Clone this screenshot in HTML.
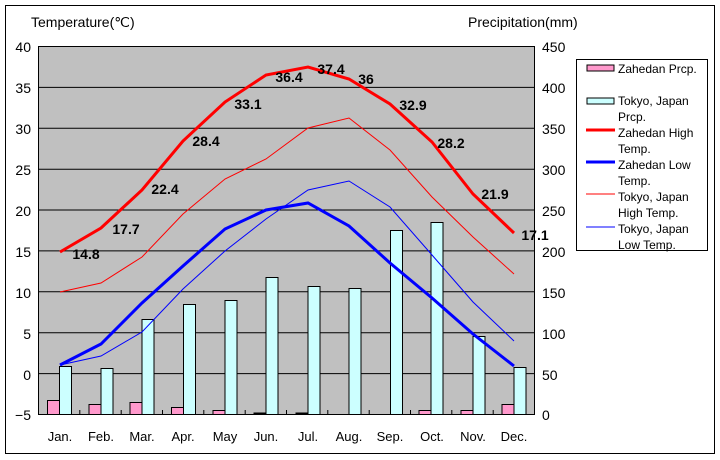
<!DOCTYPE html>
<html><head><meta charset="utf-8"><style>body{margin:0;background:#fff}svg{display:block;font-family:"Liberation Sans",sans-serif}</style></head><body>
<svg width="720" height="460" xmlns="http://www.w3.org/2000/svg">
<rect x="5.5" y="5.5" width="709" height="448" fill="#fff" stroke="#000"/>
<rect x="38.5" y="46.5" width="496" height="368" fill="#c0c0c0" stroke="#000"/>
<g stroke="#000" stroke-width="1">
<line x1="38" y1="87.4" x2="534" y2="87.4"/><line x1="38" y1="128.3" x2="534" y2="128.3"/><line x1="38" y1="169.2" x2="534" y2="169.2"/><line x1="38" y1="210" x2="534" y2="210"/><line x1="38" y1="250.9" x2="534" y2="250.9"/><line x1="38" y1="291.8" x2="534" y2="291.8"/><line x1="38" y1="332.7" x2="534" y2="332.7"/><line x1="38" y1="373.6" x2="534" y2="373.6"/>
</g>
<g font-size="14" text-anchor="end">
<text x="31" y="52">40</text><text x="31" y="93">35</text><text x="31" y="134">30</text><text x="31" y="175">25</text><text x="31" y="216">20</text><text x="31" y="257">15</text><text x="31" y="298">10</text><text x="31" y="339">5</text><text x="31" y="380">0</text><text x="31" y="420">−5</text>
</g>
<g font-size="14">
<text x="542" y="52">450</text><text x="542" y="93">400</text><text x="542" y="134">350</text><text x="542" y="175">300</text><text x="542" y="216">250</text><text x="542" y="257">200</text><text x="542" y="298">150</text><text x="542" y="339">100</text><text x="542" y="380">50</text><text x="542" y="420">0</text>
</g>
<text x="31" y="27" font-size="14">Temperature(℃)</text>
<text x="468" y="27" font-size="14">Precipitation(mm)</text>
<g font-size="13" text-anchor="middle">
<text x="60" y="441">Jan.</text><text x="101" y="441">Feb.</text><text x="142" y="441">Mar.</text><text x="183" y="441">Apr.</text><text x="225" y="441">May</text><text x="266" y="441">Jun.</text><text x="308" y="441">Jul.</text><text x="349" y="441">Aug.</text><text x="390" y="441">Sep.</text><text x="432" y="441">Oct.</text><text x="473" y="441">Nov.</text><text x="514" y="441">Dec.</text>
</g>
<g stroke="#000"><line x1="79.8" y1="414" x2="79.8" y2="410"/><line x1="121.2" y1="414" x2="121.2" y2="410"/><line x1="162.5" y1="414" x2="162.5" y2="410"/><line x1="203.8" y1="414" x2="203.8" y2="410"/><line x1="245.2" y1="414" x2="245.2" y2="410"/><line x1="286.5" y1="414" x2="286.5" y2="410"/><line x1="327.8" y1="414" x2="327.8" y2="410"/><line x1="369.2" y1="414" x2="369.2" y2="410"/><line x1="410.5" y1="414" x2="410.5" y2="410"/><line x1="451.8" y1="414" x2="451.8" y2="410"/><line x1="493.2" y1="414" x2="493.2" y2="410"/></g>
<g fill="#ff99cc" stroke="#000">
<rect x="47.5" y="400.5" width="12" height="14"/><rect x="89" y="404.5" width="12" height="10"/><rect x="130" y="402.5" width="12" height="12"/><rect x="171.5" y="407.5" width="12" height="7"/><rect x="213" y="410.5" width="12" height="4"/><rect x="254" y="413" width="12" height="1"/><rect x="296" y="413" width="12" height="1"/><rect x="419" y="410.5" width="12" height="4"/><rect x="461" y="410.5" width="12" height="4"/><rect x="502" y="404.5" width="12" height="10"/>
</g>
<g fill="#ccffff" stroke="#000">
<rect x="59.5" y="366.5" width="12" height="48"/><rect x="101" y="368.5" width="12" height="46"/><rect x="142" y="319.5" width="12" height="95"/><rect x="183.5" y="304.5" width="12" height="110"/><rect x="225" y="300.5" width="12" height="114"/><rect x="266" y="277.5" width="12" height="137"/><rect x="308" y="286.5" width="12" height="128"/><rect x="349" y="288.5" width="12" height="126"/><rect x="390.5" y="230.5" width="12" height="184"/><rect x="431" y="222.5" width="12" height="192"/><rect x="473" y="336.5" width="12" height="78"/><rect x="514" y="367.5" width="12" height="47"/>
</g>
<polyline fill="none" stroke="#ff0000" stroke-width="1" points="60,292 101,283 142,257 183,214 225,179 266,159 308,128 349,118 390,150 432,197 473,237 514,274"/>
<polyline fill="none" stroke="#0000ff" stroke-width="1" points="60,365 101,356 142,332 183,289 225,251 266,219 308,190 349,181 390,207 432,255 473,302 514,341"/>
<polyline fill="none" stroke="#ff0000" stroke-width="3" points="60,252 101,228 142,190 183,141 225,102 266,75 308,67 349,79 390,104 432,142 473,194 514,233"/>
<polyline fill="none" stroke="#0000ff" stroke-width="3" points="60,365 101,344 142,303 183,266 225,229 266,210 308,203 349,226 390,263 432,298 473,334 514,366"/>
<g font-size="14" font-weight="bold" text-anchor="middle">
<text x="86" y="259">14.8</text><text x="126" y="234">17.7</text><text x="165" y="194">22.4</text><text x="206" y="146">28.4</text><text x="248" y="109">33.1</text><text x="289" y="82">36.4</text><text x="331" y="74">37.4</text><text x="366" y="84">36</text><text x="413" y="110">32.9</text><text x="451" y="148">28.2</text><text x="495" y="199">21.9</text><text x="535" y="240">17.1</text>
</g>
<rect x="576.5" y="59.5" width="131" height="191" fill="#fff" stroke="#000"/>
<rect x="587" y="65" width="27" height="6" fill="#ff99cc" stroke="#000"/>
<rect x="587" y="98" width="27" height="6" fill="#ccffff" stroke="#000"/>
<line x1="586" y1="130" x2="615" y2="130" stroke="#ff0000" stroke-width="3"/>
<line x1="586" y1="162" x2="615" y2="162" stroke="#0000ff" stroke-width="3"/>
<line x1="586" y1="194" x2="615" y2="194" stroke="#ff0000" stroke-width="1"/>
<line x1="586" y1="227" x2="615" y2="227" stroke="#0000ff" stroke-width="1"/>
<g font-size="12">
<text x="618" y="73">Zahedan Prcp.</text>
<text x="618" y="105">Tokyo, Japan</text><text x="618" y="121">Prcp.</text>
<text x="618" y="137">Zahedan High</text><text x="618" y="153">Temp.</text>
<text x="618" y="169">Zahedan Low</text><text x="618" y="185">Temp.</text>
<text x="618" y="201">Tokyo, Japan</text><text x="618" y="217">High Temp.</text>
<text x="618" y="233">Tokyo, Japan</text><text x="618" y="249">Low Temp.</text>
</g>
</svg>
</body></html>
